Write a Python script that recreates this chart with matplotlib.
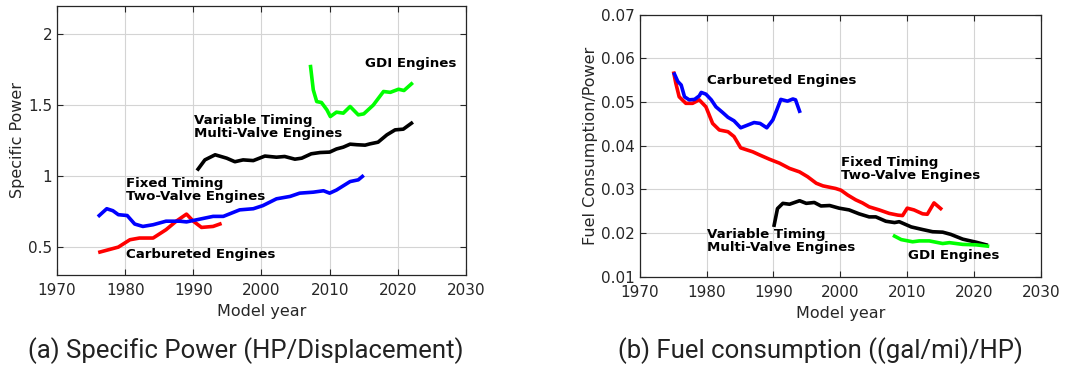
import numpy as np
import matplotlib
matplotlib.use("Agg")
import matplotlib.pyplot as plt

# ---- panel (a): specific power ----
a_carb_yr = [1976.3, 1979.0, 1980.7, 1982.1, 1984.1, 1986.0, 1987.5, 1989.0, 1990.0, 1991.2, 1992.9, 1993.9]
a_carb = [0.462, 0.497, 0.549, 0.561, 0.561, 0.62, 0.68, 0.73, 0.68, 0.636, 0.643, 0.66]

a_fixed_yr = [1976.2, 1977.3, 1978.2, 1979.0, 1980.3, 1981.4, 1982.6, 1984.1, 1986.0, 1988.0, 1989.0,
              1991.0, 1992.9, 1994.4, 1996.8, 1998.8, 2000.2, 2002.2, 2004.2, 2005.6, 2007.6, 2009.1,
              2010.0, 2011.0, 2013.0, 2014.2, 2014.8]
a_fixed = [0.72, 0.768, 0.754, 0.726, 0.72, 0.66, 0.643, 0.655, 0.68, 0.68, 0.675,
           0.695, 0.714, 0.714, 0.76, 0.768, 0.79, 0.838, 0.855, 0.878, 0.885, 0.895,
           0.878, 0.9, 0.96, 0.972, 0.996]

a_var_yr = [1990.7, 1991.7, 1993.2, 1994.9, 1996.1, 1997.3, 1998.8, 2000.5, 2002.2, 2003.4, 2004.9,
            2005.9, 2007.3, 2008.6, 2010.0, 2011.0, 2012.0, 2013.0, 2014.0, 2015.2, 2015.9, 2017.1,
            2018.4, 2019.6, 2020.8, 2022.0]
a_var = [1.048, 1.113, 1.149, 1.125, 1.10, 1.113, 1.108, 1.14, 1.132, 1.137, 1.118,
         1.125, 1.156, 1.165, 1.168, 1.19, 1.203, 1.224, 1.22, 1.217, 1.226, 1.238,
         1.29, 1.325, 1.33, 1.372]

a_gdi_yr = [2007.2, 2007.6, 2008.1, 2008.8, 2009.6, 2010.1, 2011.0, 2012.0, 2013.0, 2014.2, 2015.0,
            2016.4, 2017.9, 2018.9, 2020.1, 2020.9, 2022.0]
a_gdi = [1.772, 1.607, 1.525, 1.518, 1.466, 1.419, 1.45, 1.443, 1.49, 1.431, 1.438,
         1.50, 1.596, 1.59, 1.612, 1.603, 1.65]

# ---- panel (b): fuel consumption / power ----
b_carb_yr = [1975.2, 1975.7, 1976.2, 1976.7, 1977.4, 1978.2, 1978.9, 1979.2, 1979.9, 1980.7, 1981.4,
             1982.4, 1983.2, 1984.1, 1985.1, 1986.1, 1987.1, 1988.0, 1989.0, 1989.9, 1990.5, 1991.1,
             1992.1, 1992.9, 1993.3, 1993.9]
b_carb = [0.0564, 0.0547, 0.0539, 0.0512, 0.0505, 0.0506, 0.0514, 0.0522, 0.0518, 0.0505, 0.0489,
          0.0476, 0.0465, 0.0457, 0.0441, 0.0447, 0.0453, 0.0451, 0.0441, 0.0459, 0.0482, 0.0506,
          0.0502, 0.0507, 0.0505, 0.0479]

b_fixed_yr = [1975.1, 1975.4, 1975.9, 1976.9, 1977.9, 1978.9, 1979.9, 1980.9, 1981.9, 1983.2, 1984.1,
              1985.1, 1986.9, 1987.9, 1989.4, 1990.9, 1992.4, 1993.9, 1995.1, 1996.4, 1997.4, 1999.3,
              2000.1, 2001.1, 2002.3, 2003.3, 2004.3, 2005.8, 2007.3, 2008.6, 2009.3, 2010.0, 2011.0,
              2012.3, 2013.0, 2014.0, 2015.0]
b_fixed = [0.0566, 0.0543, 0.0512, 0.0497, 0.0497, 0.0505, 0.0489, 0.0451, 0.0436, 0.0432, 0.0421,
           0.0395, 0.0386, 0.0379, 0.0369, 0.036, 0.0348, 0.034, 0.0329, 0.0314, 0.0308, 0.0302,
           0.0298, 0.0287, 0.0276, 0.0269, 0.026, 0.0253, 0.0245, 0.0241, 0.024, 0.0257, 0.0253,
           0.0244, 0.0243, 0.0269, 0.0256]

b_var_yr = [1990.1, 1990.6, 1991.4, 1992.4, 1993.9, 1994.9, 1996.1, 1997.1, 1998.4, 1999.8, 2001.3,
            2002.8, 2004.3, 2005.3, 2006.8, 2008.1, 2008.8, 2010.6, 2012.3, 2013.8, 2015.3, 2016.5,
            2018.3, 2020.3, 2021.8]
b_var = [0.0218, 0.0256, 0.0268, 0.0266, 0.0274, 0.0268, 0.027, 0.0262, 0.0263, 0.0257, 0.0253,
         0.0244, 0.0237, 0.0237, 0.0227, 0.0224, 0.0226, 0.0214, 0.0208, 0.0203, 0.0202, 0.0197,
         0.0186, 0.0179, 0.0173]

b_gdi_yr = [2008.1, 2009.1, 2010.8, 2011.8, 2013.3, 2015.3, 2016.3, 2018.3, 2020.3, 2022.0]
b_gdi = [0.0193, 0.0185, 0.018, 0.0182, 0.0182, 0.0176, 0.0178, 0.0174, 0.0173, 0.017]

years_ticks = [1970, 1980, 1990, 2000, 2010, 2020, 2030]
a_yticks = [0.5, 1, 1.5, 2]
a_ytick_labels = ["0.5", "1", "1.5", "2"]
b_yticks = [0.01, 0.02, 0.03, 0.04, 0.05, 0.06, 0.07]

TXT = "#262626"
plt.rcParams["font.family"] = "DejaVu Sans"

fig = plt.figure(figsize=(10.71, 3.67), dpi=100)
ax1 = fig.add_axes([0.0532, 0.2507, 0.3819, 0.733])
ax2 = fig.add_axes([0.5973, 0.246, 0.3747, 0.714])


def style(ax):
    ax.set_xlim(1970, 2030)
    ax.set_xticks(years_ticks)
    ax.grid(True, color="#d4d4d4", lw=0.8)
    ax.set_axisbelow(True)
    ax.tick_params(direction="in", top=True, right=True, length=4, width=0.8,
                   labelsize=11, colors=TXT)
    ax.tick_params(axis="x", pad=6)
    for s in ax.spines.values():
        s.set_color(TXT)
        s.set_linewidth(0.9)
    ax.set_xlabel("Model year", fontsize=11.5, color=TXT, labelpad=4)


lw = 2.6
ax1.plot(a_carb_yr, a_carb, color="red", lw=lw)
ax1.plot(a_fixed_yr, a_fixed, color="blue", lw=lw)
ax1.plot(a_var_yr, a_var, color="black", lw=lw)
ax1.plot(a_gdi_yr, a_gdi, color="#00ff00", lw=lw)
style(ax1)
ax1.set_ylim(0.3, 2.2)
ax1.set_yticks(a_yticks)
ax1.set_yticklabels(a_ytick_labels)
ax1.set_ylabel("Specific Power", fontsize=11.5, color=TXT, labelpad=2)

lab = dict(fontsize=9.6, fontweight="bold", color="black", va="center", ha="left", linespacing=1.0)
ax1.text(2015.2, 1.795, "GDI Engines", **lab)
ax1.text(1990.1, 1.347, "Variable Timing\nMulti-Valve Engines", **lab)
ax1.text(1980.1, 0.898, "Fixed Timing\nTwo-Valve Engines", **lab)
ax1.text(1980.1, 0.448, "Carbureted Engines", **lab)

ax2.plot(b_fixed_yr, b_fixed, color="red", lw=lw)
ax2.plot(b_carb_yr, b_carb, color="blue", lw=lw)
ax2.plot(b_var_yr, b_var, color="black", lw=lw)
ax2.plot(b_gdi_yr, b_gdi, color="#00ff00", lw=lw)
style(ax2)
ax2.set_ylim(0.01, 0.07)
ax2.set_yticks(b_yticks)
ax2.set_yticklabels([f"{v:.2f}" for v in b_yticks])
ax2.set_ylabel("Fuel Consumption/Power", fontsize=11.5, color=TXT, labelpad=2)

ax2.text(1980.1, 0.0549, "Carbureted Engines", **lab)
ax2.text(2000.1, 0.0346, "Fixed Timing\nTwo-Valve Engines", **lab)
ax2.text(1980.1, 0.0182, "Variable Timing\nMulti-Valve Engines", **lab)
ax2.text(2010.1, 0.0148, "GDI Engines", **lab)

fig.text(0.2297, 0.046, "(a) Specific Power (HP/Displacement)", family="Roboto",
         fontsize=18.5, color="#222222", ha="center", va="center")
fig.text(0.7656, 0.046, "(b) Fuel consumption ((gal/mi)/HP)", family="Roboto",
         fontsize=18.5, color="#222222", ha="center", va="center")

fig.savefig("out.png", dpi=100)
